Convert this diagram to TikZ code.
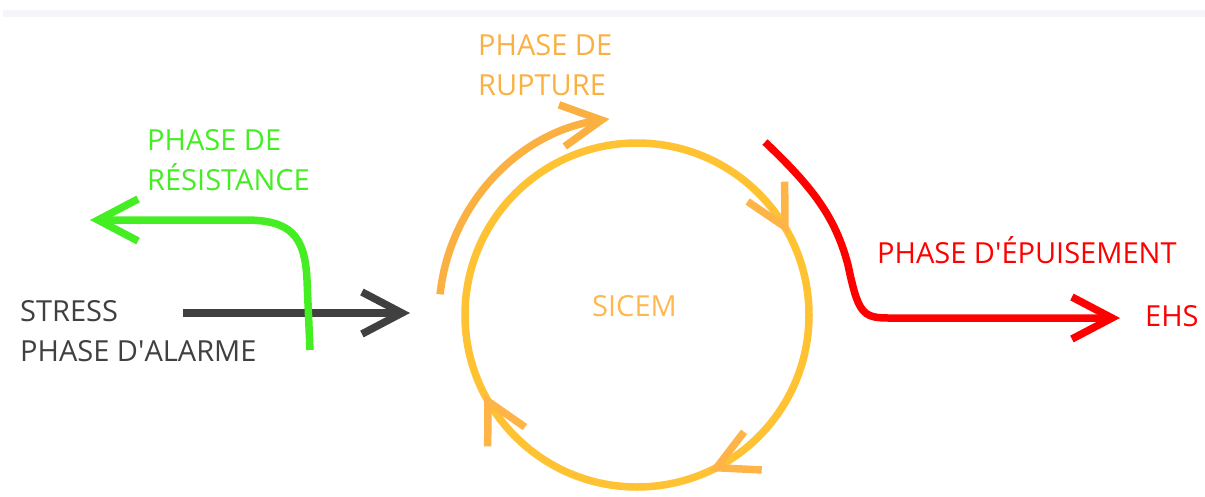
\documentclass[tikz,border=0pt]{standalone}
\usepackage{fontspec}
\setmainfont{Open Sans}
\usetikzlibrary{arrows.meta, decorations.markings}
\definecolor{stressgray}{RGB}{64, 64, 64}
\definecolor{resistgreen}{RGB}{68, 238, 34}
\definecolor{rupturegold}{RGB}{251, 176, 66}
\definecolor{cycleyellow}{RGB}{255, 194, 51}
\definecolor{cyclehead}{RGB}{255, 180, 72}
\definecolor{sicemtext}{RGB}{255, 184, 80}
\definecolor{exhaustred}{RGB}{255, 0, 0}
\definecolor{stripgray}{RGB}{245, 246, 250}

\begin{document}
\begin{tikzpicture}[
    x=1pt, y=-1pt,
    phase/.style={inner sep=0pt, anchor=base west, align=left,
                  font=\fontsize{29}{40}\selectfont},
    arrow/.style={line width=7.5pt, -{Straight Barb[length=40pt, width=42pt]}},
    headtip/.tip={Straight Barb[length=40pt, width=42pt, line width=7.5pt]}
]
\useasboundingbox (0,0) rectangle (1205,496);

% top strip
\fill[stripgray] (3,10) rectangle (1205,17);

% Labels (anchored at the baseline of the last line)
\node[phase, text=stressgray] (stress) at (20,361) {STRESS\\PHASE D\textquotesingle ALARME};
\node[phase, text=resistgreen] (resist) at (147,190) {PHASE DE\\RÉSISTANCE};
\node[phase, text=rupturegold] (rupture) at (478,95) {PHASE DE\\RUPTURE};
\node[phase, text=sicemtext] (sicem) at (592,316) {SICEM};
\node[phase, text=exhaustred] (exhaust) at (877,263) {PHASE D\textquotesingle ÉPUISEMENT};
\node[phase, text=exhaustred] (ehs) at (1145,326) {EHS};

% Ends of the connectors
\coordinate (cycle centre) at (637,315);
\coordinate (stress start) at (183,313);
\coordinate (stress end) at (410,313);
\coordinate (resist start) at (310,350);
\coordinate (resist end) at (90,220);
\coordinate (exhaust start) at (765,142);
\coordinate (exhaust end) at (1120,318);

% Cycle
\draw[cycleyellow, line width=7.5pt, postaction={decorate},
      decoration={markings,
        mark=at position 0.172 with {\arrow[cyclehead, line width=7.5pt]{headtip}},
        mark=at position 0.431 with {\arrow[cyclehead, line width=7.5pt]{headtip}},
        mark=at position 0.674 with {\arrow[cyclehead, line width=7.5pt]{headtip}}}]
    (cycle centre) ++(-90:172) arc[start angle=-90, end angle=270, radius=172];

% Arrows
\draw[arrow, rupturegold] (cycle centre) ++(186:198) arc[start angle=186, end angle=262, radius=198];
\draw[arrow, stressgray] (stress start) -- (stress end);
\draw[arrow, resistgreen] (resist start) -- (307,280) .. controls (305,235) and (290,220) .. (245,220) -- (resist end);
\draw[arrow, exhaustred] (exhaust start) .. controls (810,185) and (835,215) .. (848,265)
    .. controls (858,312) and (862,318) .. (888,318) -- (exhaust end);

\end{tikzpicture}
\end{document}
